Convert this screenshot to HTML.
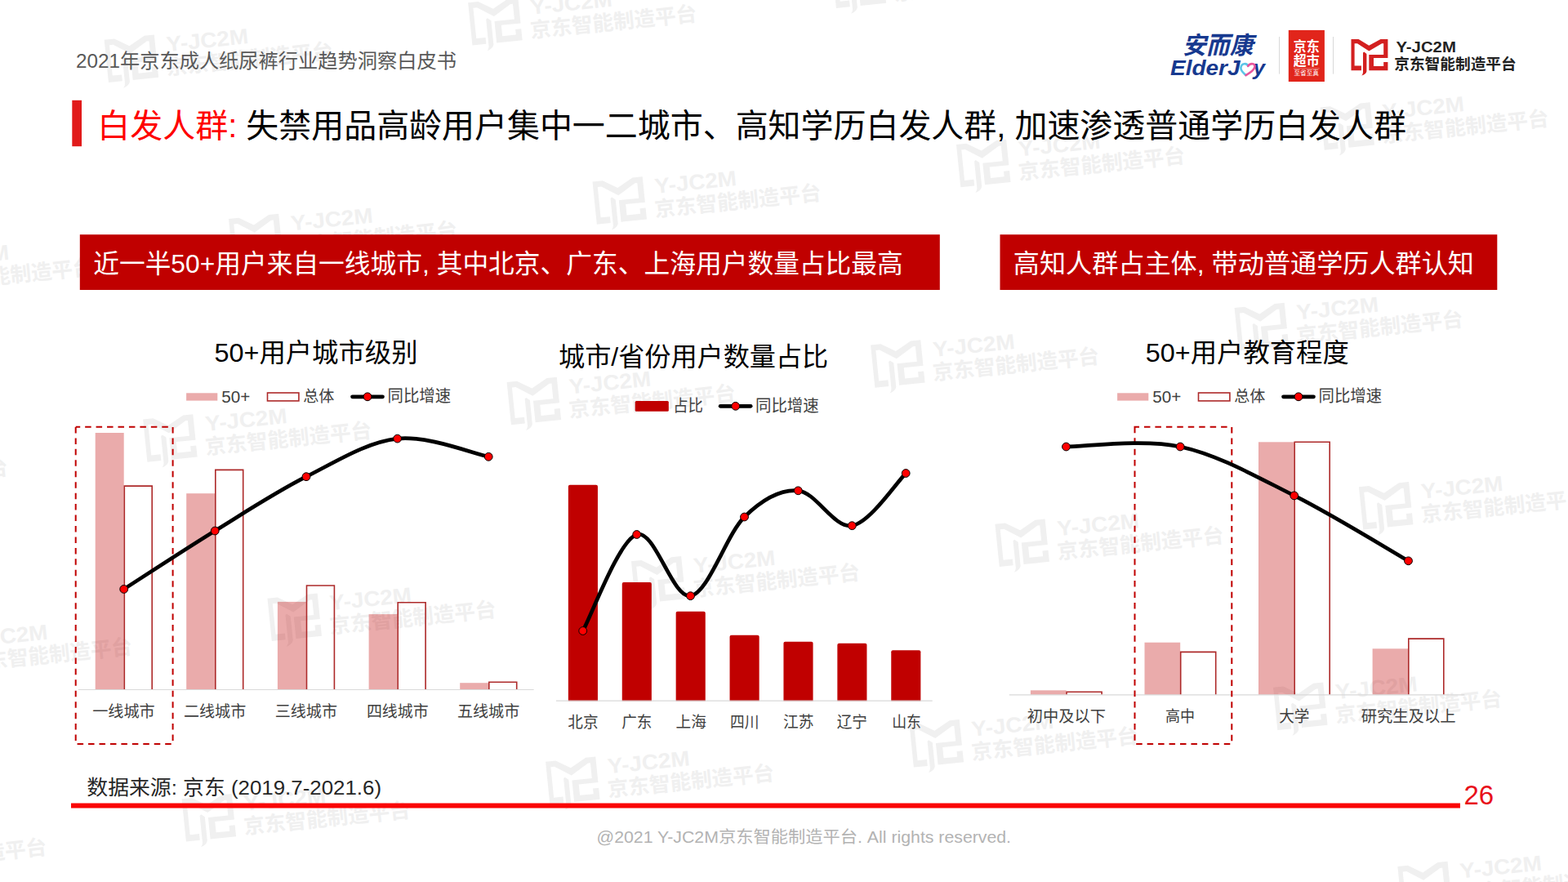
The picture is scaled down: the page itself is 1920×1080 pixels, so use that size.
<!DOCTYPE html>
<html lang="zh-CN">
<head>
<meta charset="utf-8">
<title>白发人群：失禁用品高龄用户集中一二城市、高知学历白发人群</title>
<style>
html,body{margin:0;padding:0;background:#fff;}
body{width:1920px;height:1080px;overflow:hidden;font-family:"Liberation Sans","Noto Sans CJK SC",sans-serif;}
svg{display:block;position:absolute;left:0;top:0;}
text{font-family:"Liberation Sans","Noto Sans CJK SC",sans-serif;}
</style>
</head>
<body>
<svg width="1920" height="1080" viewBox="0 0 1920 1080">
<defs>
<path id="ic" d="M6.5 6L15.6 6L28.3 13.7L42.5 6L51.4 6L51.4 29.05L34 29.05L34 38.9L46.2 38.9L46.2 34L51.4 34L51.4 44.35L28.3 44.35L28.3 24.9L46.2 24.9L46.2 11.15L44.1 11.15L28.3 20.5L14 11.15L10.6 11.15L10.6 38.6L18.9 38.6L18.9 44.35L6.5 44.35zM22.3 21.5L25.4 24V45.5Q24.5 49 19.2 50.6Q21 48.5 21 46.5V22.5z"/><g id="lt"><text x="61.4" y="22.24" font-size="19" font-weight="bold" textLength="73.5" lengthAdjust="spacingAndGlyphs">Y-JC2M</text><text x="59.25" y="42.96" font-size="18.7" font-weight="bold" textLength="149.5" lengthAdjust="spacingAndGlyphs">京东智能制造平台</text></g><g id="wm"><use href="#ic"/><use href="#lt"/></g>
</defs>
<rect width="1920" height="1080" fill="#fff"/>
<g id="watermarks" fill="#f0f0f0"><use href="#wm" transform="translate(-317.84 94.23) rotate(-5.83) scale(1.37) translate(-6.5 -6)"/><use href="#wm" transform="translate(127.64 48.74) rotate(-5.83) scale(1.37) translate(-6.5 -6)"/><use href="#wm" transform="translate(573.12 3.26) rotate(-5.83) scale(1.37) translate(-6.5 -6)"/><use href="#wm" transform="translate(1018.61 -42.23) rotate(-5.83) scale(1.37) translate(-6.5 -6)"/><use href="#wm" transform="translate(1464.09 -87.72) rotate(-5.83) scale(1.37) translate(-6.5 -6)"/><use href="#wm" transform="translate(-165.48 313.49) rotate(-5.83) scale(1.37) translate(-6.5 -6)"/><use href="#wm" transform="translate(280 268) rotate(-5.83) scale(1.37) translate(-6.5 -6)"/><use href="#wm" transform="translate(725.48 222.51) rotate(-5.83) scale(1.37) translate(-6.5 -6)"/><use href="#wm" transform="translate(1170.97 177.03) rotate(-5.83) scale(1.37) translate(-6.5 -6)"/><use href="#wm" transform="translate(1616.45 131.54) rotate(-5.83) scale(1.37) translate(-6.5 -6)"/><use href="#wm" transform="translate(-270.39 559.01) rotate(-5.83) scale(1.37) translate(-6.5 -6)"/><use href="#wm" transform="translate(175.1 513.53) rotate(-5.83) scale(1.37) translate(-6.5 -6)"/><use href="#wm" transform="translate(620.58 468.04) rotate(-5.83) scale(1.37) translate(-6.5 -6)"/><use href="#wm" transform="translate(1066.06 422.55) rotate(-5.83) scale(1.37) translate(-6.5 -6)"/><use href="#wm" transform="translate(1511.55 377.07) rotate(-5.83) scale(1.37) translate(-6.5 -6)"/><use href="#wm" transform="translate(-118.03 778.27) rotate(-5.83) scale(1.37) translate(-6.5 -6)"/><use href="#wm" transform="translate(327.46 732.78) rotate(-5.83) scale(1.37) translate(-6.5 -6)"/><use href="#wm" transform="translate(772.94 687.3) rotate(-5.83) scale(1.37) translate(-6.5 -6)"/><use href="#wm" transform="translate(1218.42 641.81) rotate(-5.83) scale(1.37) translate(-6.5 -6)"/><use href="#wm" transform="translate(1663.91 596.32) rotate(-5.83) scale(1.37) translate(-6.5 -6)"/><use href="#wm" transform="translate(-222.93 1023.8) rotate(-5.83) scale(1.37) translate(-6.5 -6)"/><use href="#wm" transform="translate(222.55 978.31) rotate(-5.83) scale(1.37) translate(-6.5 -6)"/><use href="#wm" transform="translate(668.04 932.82) rotate(-5.83) scale(1.37) translate(-6.5 -6)"/><use href="#wm" transform="translate(1113.52 887.34) rotate(-5.83) scale(1.37) translate(-6.5 -6)"/><use href="#wm" transform="translate(1559.01 841.85) rotate(-5.83) scale(1.37) translate(-6.5 -6)"/><use href="#wm" transform="translate(1711.37 1061.11) rotate(-5.83) scale(1.37) translate(-6.5 -6)"/></g>
<g id="logos">
<g><text x="1448" y="66.23" font-size="29.74" font-weight="bold" font-style="italic" textLength="86.6" lengthAdjust="spacingAndGlyphs" fill="#17398f">安而康</text></g>
<g><text x="1433" y="91.6" font-size="26.19" font-weight="bold" font-style="italic" textLength="85.5" lengthAdjust="spacingAndGlyphs" fill="#17398f">ElderJ</text><text x="1534.6" y="91.6" font-size="26.19" font-weight="bold" font-style="italic" fill="#17398f">y</text></g>
<g fill="none" stroke-width="2.6" stroke-linecap="round"><path stroke="#5bc5e8" d="M1528.22 80.85C1526.89 76.96 1520.17 76.96 1519.44 82.73C1519 87.05 1523.46 89.93 1525.55 92.1"/><path stroke="#e8559d" d="M1528.22 80.85C1531.09 76.96 1537.81 76.96 1536.24 82.73C1534.96 87.05 1529.34 89.93 1525.55 92.1"/></g><path d="M1566.5 45V90.6M1632.5 45V90.6" stroke="#d9d9d9" stroke-width="1"/><rect x="1577.8" y="36.9" width="44.1" height="63.1" fill="#e1251b"/><g><text x="1583.8" y="63.2" font-size="16.72" font-weight="bold" textLength="31.8" lengthAdjust="spacingAndGlyphs" fill="#fff">京东</text></g>
<g><text x="1583.8" y="79.53" font-size="16.45" font-weight="bold" textLength="31.8" lengthAdjust="spacingAndGlyphs" fill="#fff">超市</text></g>
<path d="M1583.8 83.8H1615.6" stroke="#fff" stroke-opacity=".6" stroke-width=".6"/><g><text x="1584.5" y="92.17" font-size="7.83" textLength="30.5" lengthAdjust="spacingAndGlyphs" fill="#fff">至省至真</text></g>
<g transform="translate(1648 42)"><use href="#ic" fill="#d32020"/><use href="#lt" fill="#222"/></g>
</g>
<g id="header">
<g><text x="93" y="83.14" font-size="24.06" textLength="466" lengthAdjust="spacingAndGlyphs" fill="#595959">2021年京东成人纸尿裤行业趋势洞察白皮书</text></g>
</g>
<g id="title">
<rect x="88.3" y="122.8" width="11.7" height="56.4" fill="#e11b1b"/><g><text x="119.32" y="168.2" font-size="40" textLength="1602.6" lengthAdjust="spacingAndGlyphs" fill="#000"><tspan fill="#ff0000">白发人群:</tspan> 失禁用品高龄用户集中一二城市、高知学历白发人群, 加速渗透普通学历白发人群</text></g>
</g>
<g id="banners">
<rect x="97.8" y="287.2" width="1053" height="67.8" fill="#c00000"/><g><text x="114.2" y="333.94" font-size="31.98" textLength="991.6" lengthAdjust="spacingAndGlyphs" fill="#fff">近一半50+用户来自一线城市, 其中北京、广东、上海用户数量占比最高</text></g>
<rect x="1224.5" y="287.2" width="608.8" height="67.8" fill="#c00000"/><g><text x="1240.8" y="334.09" font-size="32.06" textLength="564.2" lengthAdjust="spacingAndGlyphs" fill="#fff">高知人群占主体, 带动普通学历人群认知</text></g>
</g>
<g id="chart-titles">
<g><text x="262.5" y="443.09" font-size="32.15" textLength="249" lengthAdjust="spacingAndGlyphs" fill="#000">50+用户城市级别</text></g>
<g><text x="684" y="447.65" font-size="32.24" textLength="330.2" lengthAdjust="spacingAndGlyphs" fill="#000">城市/省份用户数量占比</text></g>
<g><text x="1402.8" y="443.08" font-size="31.95" textLength="249" lengthAdjust="spacingAndGlyphs" fill="#000">50+用户教育程度</text></g>
</g>
<g id="legends">
<g><rect x="228.1" y="481.3" width="38.2" height="9.3" fill="#c00000" fill-opacity=".33"/><g><text x="271.3" y="492.7" font-size="20.46" textLength="35" lengthAdjust="spacingAndGlyphs" fill="#404040">50+</text></g>
<rect x="327.5" y="481" width="38.4" height="9.9" fill="none" stroke="#ad2a2a" stroke-width="1.6"/><g><text x="371.3" y="492.48" font-size="19.78" textLength="38.1" lengthAdjust="spacingAndGlyphs" fill="#404040">总体</text></g>
<path d="M431.5 485.8H468.5" stroke="#000" stroke-width="4.7" stroke-linecap="round"/><circle cx="450" cy="485.8" r="4.9" fill="#f00" stroke="#000"/><g><text x="474.6" y="492.43" font-size="20.03" textLength="77.5" lengthAdjust="spacingAndGlyphs" fill="#404040">同比增速</text></g>
</g>
<g><rect x="1368.1" y="481.3" width="38.2" height="9.3" fill="#c00000" fill-opacity=".33"/><g><text x="1411.3" y="492.7" font-size="20.46" textLength="35" lengthAdjust="spacingAndGlyphs" fill="#404040">50+</text></g>
<rect x="1467.5" y="481" width="38.4" height="9.9" fill="none" stroke="#ad2a2a" stroke-width="1.6"/><g><text x="1511.3" y="492.48" font-size="19.78" textLength="38.1" lengthAdjust="spacingAndGlyphs" fill="#404040">总体</text></g>
<path d="M1571.5 485.8H1608.5" stroke="#000" stroke-width="4.7" stroke-linecap="round"/><circle cx="1590" cy="485.8" r="4.9" fill="#f00" stroke="#000"/><g><text x="1614.6" y="492.43" font-size="20.03" textLength="77.5" lengthAdjust="spacingAndGlyphs" fill="#404040">同比增速</text></g>
</g>
<g><rect x="777.7" y="491" width="41.1" height="12.8" fill="#c00000" rx="1.5"/><g><text x="824.2" y="503.89" font-size="20.66" textLength="36.8" lengthAdjust="spacingAndGlyphs" fill="#404040">占比</text></g>
<path d="M882.1 497.3H919.2" stroke="#000" stroke-width="4.7" stroke-linecap="round"/><circle cx="900.7" cy="497.3" r="4.9" fill="#f00" stroke="#000"/><g><text x="925" y="503.84" font-size="20.08" textLength="77.7" lengthAdjust="spacingAndGlyphs" fill="#404040">同比增速</text></g>
</g>
</g>
<g id="chart1">
<g fill="#c00000" fill-opacity=".33"><rect x="116.7" y="530" width="35" height="314.5"/><rect x="228.2" y="604.2" width="35" height="240.3"/><rect x="339.9" y="736.9" width="35" height="107.6"/><rect x="451.6" y="752.1" width="35" height="92.4"/><rect x="563.2" y="836.2" width="35" height="8.3"/></g><path d="M152.3 844.5V595.1H186.2V844.5" fill="none" stroke="#ad2a2a" stroke-width="1.6"/><path d="M263.8 844.5V575.4H297.7V844.5" fill="none" stroke="#ad2a2a" stroke-width="1.6"/><path d="M375.5 844.5V717H409.4V844.5" fill="none" stroke="#ad2a2a" stroke-width="1.6"/><path d="M487.2 844.5V737.7H521.1V844.5" fill="none" stroke="#ad2a2a" stroke-width="1.6"/><path d="M598.8 844.5V835.2H632.7V844.5" fill="none" stroke="#ad2a2a" stroke-width="1.6"/><path d="M95.8 844.5H653.6" stroke="#d9d9d9" stroke-width="1.2"/><path d="M92.7 522.8H211.6V911.1H92.7z" fill="none" stroke="#c00000" stroke-width="2" stroke-dasharray="7.5 5.95" stroke-dashoffset="2"/><path d="M151.7 721.4C170.28 709.5 225.98 672.95 263.2 650C300.42 627.05 337.77 602.52 375 583.7C412.23 564.88 449.4 541.17 486.6 537.1C523.8 533.03 579.6 555.6 598.2 559.3" fill="none" stroke="#000" stroke-width="4.7" stroke-linecap="round" stroke-linejoin="round"/><g fill="#f00" stroke="#000" stroke-width="1"><circle cx="151.7" cy="721.4" r="4.9"/><circle cx="263.2" cy="650" r="4.9"/><circle cx="375" cy="583.7" r="4.9"/><circle cx="486.6" cy="537.1" r="4.9"/><circle cx="598.2" cy="559.3" r="4.9"/></g>
<g><text x="113.18" y="877.99" font-size="19.6" textLength="76.54" lengthAdjust="spacingAndGlyphs" fill="#404040">一线城市</text></g>
<g><text x="224.92" y="877.99" font-size="19.6" textLength="76.3" lengthAdjust="spacingAndGlyphs" fill="#404040">二线城市</text></g>
<g><text x="336.79" y="877.99" font-size="19.6" textLength="76.13" lengthAdjust="spacingAndGlyphs" fill="#404040">三线城市</text></g>
<g><text x="448.96" y="877.99" font-size="19.6" textLength="75.66" lengthAdjust="spacingAndGlyphs" fill="#404040">四线城市</text></g>
<g><text x="559.92" y="877.99" font-size="19.6" textLength="76.3" lengthAdjust="spacingAndGlyphs" fill="#404040">五线城市</text></g>
</g>
<g id="chart2">
<g fill="#c00000"><path d="M695.85 858.6V595.8q0 -2 2 -2H729.95q2 0 2 2V858.6z"/><path d="M761.75 858.6V715q0 -2 2 -2H795.85q2 0 2 2V858.6z"/><path d="M827.65 858.6V750.8q0 -2 2 -2H861.75q2 0 2 2V858.6z"/><path d="M893.55 858.6V779.8q0 -2 2 -2H927.65q2 0 2 2V858.6z"/><path d="M959.45 858.6V787.8q0 -2 2 -2H993.55q2 0 2 2V858.6z"/><path d="M1025.35 858.6V789.7q0 -2 2 -2H1059.45q2 0 2 2V858.6z"/><path d="M1091.25 858.6V798.2q0 -2 2 -2H1125.35q2 0 2 2V858.6z"/></g><path d="M681 858.2H1141.7" stroke="#d9d9d9" stroke-width="1.2"/><path d="M713.7 772.5C724.7 752.83 757.73 661.63 779.7 654.5C801.67 647.37 823.53 733.28 845.5 729.7C867.47 726.12 889.53 654.48 911.5 633C933.47 611.52 955.33 599.02 977.3 600.8C999.27 602.58 1021.32 647.25 1043.3 643.7C1065.28 640.15 1098.22 590.2 1109.2 579.5" fill="none" stroke="#000" stroke-width="4.7" stroke-linecap="round" stroke-linejoin="round"/><g fill="#f00" stroke="#000" stroke-width="1"><circle cx="713.7" cy="772.5" r="4.9"/><circle cx="779.7" cy="654.5" r="4.9"/><circle cx="845.5" cy="729.7" r="4.9"/><circle cx="911.5" cy="633" r="4.9"/><circle cx="977.3" cy="600.8" r="4.9"/><circle cx="1043.3" cy="643.7" r="4.9"/><circle cx="1109.2" cy="579.5" r="4.9"/></g>
<g><text x="695.31" y="891.13" font-size="19.6" textLength="37.24" lengthAdjust="spacingAndGlyphs" fill="#404040">北京</text></g>
<g><text x="761.3" y="891.13" font-size="19.6" textLength="37.14" lengthAdjust="spacingAndGlyphs" fill="#404040">广东</text></g>
<g><text x="827.44" y="891.13" font-size="19.6" textLength="37.4" lengthAdjust="spacingAndGlyphs" fill="#404040">上海</text></g>
<g><text x="894.06" y="891.13" font-size="19.6" textLength="35.3" lengthAdjust="spacingAndGlyphs" fill="#404040">四川</text></g>
<g><text x="959.04" y="891.13" font-size="19.6" textLength="37.38" lengthAdjust="spacingAndGlyphs" fill="#404040">江苏</text></g>
<g><text x="1024.75" y="891.13" font-size="19.6" textLength="37.18" lengthAdjust="spacingAndGlyphs" fill="#404040">辽宁</text></g>
<g><text x="1092.18" y="891.13" font-size="19.6" textLength="35.77" lengthAdjust="spacingAndGlyphs" fill="#404040">山东</text></g>
</g>
<g id="chart3">
<g fill="#c00000" fill-opacity=".33"><rect x="1261.9" y="845.3" width="43.7" height="5.5"/><rect x="1401.5" y="786.7" width="43.7" height="64.1"/><rect x="1541" y="541.3" width="43.7" height="309.5"/><rect x="1680.6" y="794.3" width="43.7" height="56.5"/></g><path d="M1306.1 850.8V847.2H1349.1V850.8" fill="none" stroke="#ad2a2a" stroke-width="1.6"/><path d="M1445.7 850.8V798.4H1488.7V850.8" fill="none" stroke="#ad2a2a" stroke-width="1.6"/><path d="M1585.2 850.8V541.2H1628.2V850.8" fill="none" stroke="#ad2a2a" stroke-width="1.6"/><path d="M1724.8 850.8V782.1H1767.8V850.8" fill="none" stroke="#ad2a2a" stroke-width="1.6"/><path d="M1235.8 850.8H1793.4" stroke="#d9d9d9" stroke-width="1.2"/><path d="M1389.5 522.8H1508.3V911.1H1389.5z" fill="none" stroke="#c00000" stroke-width="2" stroke-dasharray="7.5 5.95" stroke-dashoffset="2"/><path d="M1305.5 547C1328.78 547 1398.65 537.02 1445.2 547C1491.75 556.98 1538.25 583.6 1584.8 606.9C1631.35 630.2 1701.22 673.48 1724.5 686.8" fill="none" stroke="#000" stroke-width="4.7" stroke-linecap="round" stroke-linejoin="round"/><g fill="#f00" stroke="#000" stroke-width="1"><circle cx="1305.5" cy="547" r="4.9"/><circle cx="1445.2" cy="547" r="4.9"/><circle cx="1584.8" cy="606.9" r="4.9"/><circle cx="1724.5" cy="686.8" r="4.9"/></g>
<g><text x="1257.73" y="884.36" font-size="19.6" textLength="96.2" lengthAdjust="spacingAndGlyphs" fill="#404040">初中及以下</text></g>
<g><text x="1426.98" y="884.36" font-size="19.6" textLength="36.06" lengthAdjust="spacingAndGlyphs" fill="#404040">高中</text></g>
<g><text x="1566.26" y="884.36" font-size="19.6" textLength="37.24" lengthAdjust="spacingAndGlyphs" fill="#404040">大学</text></g>
<g><text x="1666.67" y="884.36" font-size="19.6" textLength="115.91" lengthAdjust="spacingAndGlyphs" fill="#404040">研究生及以上</text></g>
</g>
<g id="footer">
<g><text x="106.3" y="973.11" font-size="24.56" textLength="360.7" lengthAdjust="spacingAndGlyphs" fill="#262626">数据来源: 京东 (2019.7-2021.6)</text></g>
<rect x="87" y="983.5" width="1701" height="6" fill="#fa0505"/><g><text x="1792.5" y="984.82" font-size="32.82" textLength="36.7" lengthAdjust="spacingAndGlyphs" fill="#e8111b">26</text></g>
<g><text x="730.6" y="1032.14" font-size="20.33" textLength="507.4" lengthAdjust="spacingAndGlyphs" fill="#b3b3b3">@2021 Y-JC2M京东智能制造平台. All rights reserved.</text></g>
</g>
</svg>
</body>
</html>
